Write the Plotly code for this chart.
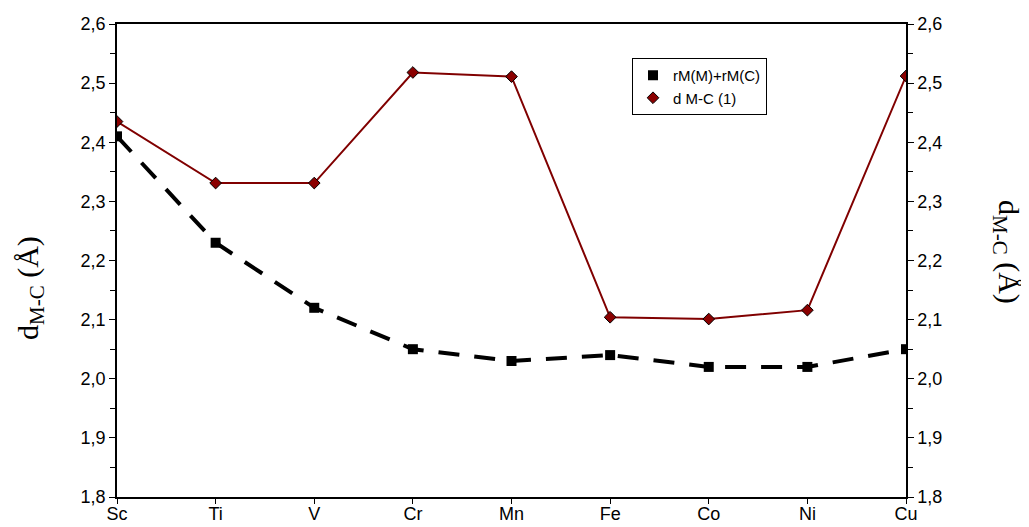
import plotly.graph_objects as go

metals = ["Sc", "Ti", "V", "Cr", "Mn", "Fe", "Co", "Ni", "Cu"]
r_sum = [2.41, 2.23, 2.12, 2.05, 2.03, 2.04, 2.02, 2.02, 2.05]
d_mc = [2.435, 2.331, 2.331, 2.518, 2.511, 2.104, 2.101, 2.116, 2.512]
y_ticks = [1.8, 1.9, 2.0, 2.1, 2.2, 2.3, 2.4, 2.5, 2.6]

# page body has an 8px margin: size the figure so it fits the window
OFF = 8
W, H = 1029 - OFF, 527 - OFF
L, T = 117 - OFF, 24 - OFF
pw, ph = 906 - 117, 497 - 24
R, B = W - L - pw, H - T - ph

def px_x(xp):  # page pixel -> paper coord
    return (xp - 117) / pw

def px_y(yp):
    return (497 - yp) / ph

sq_marker = dict(symbol="square", size=10, color="black")
dia_marker = dict(symbol="diamond", size=9, color="#8b0000", line=dict(color="black", width=1))

fig = go.Figure()
fig.add_trace(go.Scatter(
    x=list(range(len(metals))), y=r_sum, name="rM(M)+rM(C)", mode="lines+markers",
    line=dict(color="black", width=4, dash="21px,15px"),
    marker=sq_marker, showlegend=False,
))
fig.add_trace(go.Scatter(
    x=list(range(len(metals))), y=d_mc, name="d M-C (1)", mode="lines+markers",
    line=dict(color="#800000", width=2),
    marker=dia_marker, yaxis="y2", showlegend=False,
))
# legend entries (markers only, as in the reference)
fig.add_trace(go.Scatter(x=[None], y=[None], name="rM(M)+rM(C)", mode="markers", marker=sq_marker))
fig.add_trace(go.Scatter(x=[None], y=[None], name="d M-C (1)", mode="markers", marker=dia_marker))

axis_font = dict(family="Liberation Sans, Arial", size=18, color="black")
title_font = dict(family="Liberation Serif, Times New Roman", size=30, color="black")
ticktext = [f"{v:.1f}".replace(".", ",") for v in y_ticks]

common_y = dict(
    range=[1.8, 2.6], tickmode="array", tickvals=y_ticks, ticktext=ticktext,
    showgrid=False, zeroline=False, showline=True, linecolor="black", linewidth=1.5,
    ticks="outside", ticklen=6, tickcolor="black", automargin=False,
    minor=dict(dtick=0.05, ticks="outside", ticklen=5, tickcolor="black", showgrid=False),
    tickfont=axis_font,
)

fig.update_layout(
    width=W, height=H,
    margin=dict(l=L, r=R, t=T, b=B),
    paper_bgcolor="white", plot_bgcolor="white",
    showlegend=True,
    legend=dict(x=px_x(632), y=px_y(58), xanchor="left", yanchor="top",
                bordercolor="black", borderwidth=1, bgcolor="white",
                font=dict(family="Liberation Sans, Arial", size=15, color="black"),
                tracegroupgap=0, itemwidth=30),
    xaxis=dict(
        range=[0, len(metals) - 1], tickmode="array",
        tickvals=list(range(len(metals))), ticktext=metals,
        showgrid=False, zeroline=False, showline=True, linecolor="black", linewidth=1.5,
        ticks="outside", ticklen=5, tickcolor="black", mirror=True, automargin=False,
        tickfont=axis_font, ticklabelstandoff=-5,
    ),
    yaxis=common_y,
    yaxis2=dict(common_y, overlaying="y", side="right"),
    annotations=[
        dict(text="d<sub>M-C</sub> (Å)", textangle=-90,
             x=px_x(30), y=px_y(288), xref="paper", yref="paper",
             xanchor="center", yanchor="middle", showarrow=False, font=title_font),
        dict(text="d<sub>M-C</sub> (Å)", textangle=90,
             x=px_x(1007), y=px_y(252), xref="paper", yref="paper",
             xanchor="center", yanchor="middle", showarrow=False, font=title_font),
    ],
)

fig.write_html("out.html")
